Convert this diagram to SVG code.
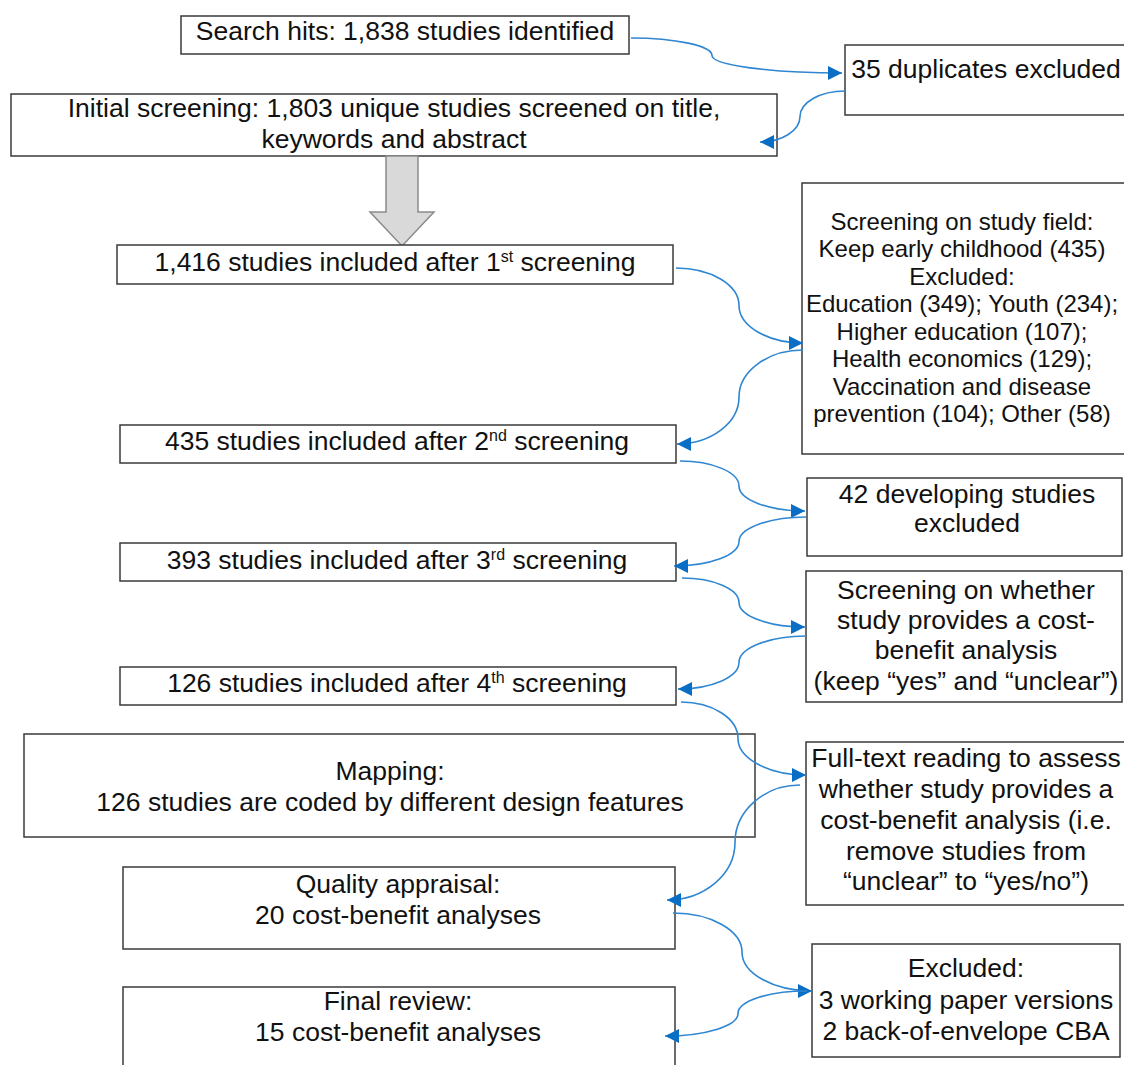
<svg xmlns="http://www.w3.org/2000/svg" width="1124" height="1065" viewBox="0 0 1124 1065">
<style>
.box{fill:#fff;stroke:#3a3a3a;stroke-width:1.5}
.t{font-family:"Liberation Sans",Arial,sans-serif;font-size:26.5px;fill:#111;text-anchor:middle}
.s{font-size:24px}
.c{fill:none;stroke:#2f86d2;stroke-width:1.6;marker-end:url(#ah)}
</style>
<defs>
<marker id="ah" markerUnits="userSpaceOnUse" markerWidth="15" markerHeight="15" refX="14" refY="7" orient="auto">
<path d="M0,0 L14,7 L0,14 z" fill="#0a6fc4"/>
</marker>
</defs>
<rect width="1124" height="1065" fill="#fff"/>

<g id="n-search"><rect class="box" x="181" y="16" width="448" height="38"/><text class="t" x="405" y="40">Search hits: 1,838 studies identified</text></g>
<g id="n-dup"><rect class="box" x="845" y="45" width="290" height="70"/><text class="t" x="986" y="78">35 duplicates excluded</text></g>
<g id="n-initial"><rect class="box" x="11" y="94" width="766" height="62"/><text class="t" x="394" y="117">Initial screening: 1,803 unique studies screened on title,</text><text class="t" x="394" y="148">keywords and abstract</text></g>
<g id="n-bigarrow"><path d="M386,156 L418,156 L418,212 L434,212 L402,246 L370,212 L386,212 Z" fill="#d9d9d9" stroke="#8a8a8a" stroke-width="1.5"/></g>
<g id="n-s1"><rect class="box" x="117" y="245" width="556" height="39"/><text class="t" x="395" y="271">1,416 studies included after 1<tspan dy="-9" font-size="16">st</tspan><tspan dy="9"> screening</tspan></text></g>
<g id="n-field"><rect class="box" x="802" y="183" width="330" height="271"/>
<text class="t s" x="962" y="230">Screening on study field:</text>
<text class="t s" x="962" y="257">Keep early childhood (435)</text>
<text class="t s" x="962" y="284.5">Excluded:</text>
<text class="t s" x="962" y="312">Education (349); Youth (234);</text>
<text class="t s" x="962" y="339.5">Higher education (107);</text>
<text class="t s" x="962" y="367">Health economics (129);</text>
<text class="t s" x="962" y="394.5">Vaccination and disease</text>
<text class="t s" x="962" y="422">prevention (104); Other (58)</text></g>
<g id="n-s2"><rect class="box" x="120" y="425" width="556" height="38"/><text class="t" x="397" y="450">435 studies included after 2<tspan dy="-9" font-size="16">nd</tspan><tspan dy="9"> screening</tspan></text></g>
<g id="n-dev"><rect class="box" x="807" y="478" width="315" height="78"/><text class="t" x="967" y="503">42 developing studies</text><text class="t" x="967" y="532">excluded</text></g>
<g id="n-s3"><rect class="box" x="120" y="543" width="556" height="38"/><text class="t" x="397" y="569">393 studies included after 3<tspan dy="-9" font-size="16">rd</tspan><tspan dy="9"> screening</tspan></text></g>
<g id="n-cba"><rect class="box" x="806" y="571" width="316" height="131"/>
<text class="t" x="966" y="599">Screening on whether</text>
<text class="t" x="966" y="629">study provides a cost-</text>
<text class="t" x="966" y="659">benefit analysis</text>
<text class="t" x="966" y="690">(keep “yes” and “unclear”)</text></g>
<g id="n-s4"><rect class="box" x="120" y="667" width="556" height="38"/><text class="t" x="397" y="692">126 studies included after 4<tspan dy="-9" font-size="16">th</tspan><tspan dy="9"> screening</tspan></text></g>
<g id="n-map"><rect class="box" x="24" y="734" width="731" height="103"/><text class="t" x="390" y="780">Mapping:</text><text class="t" x="390" y="811">126 studies are coded by different design features</text></g>
<g id="n-full"><rect class="box" x="806" y="742" width="324" height="163"/>
<text class="t" x="966" y="767">Full-text reading to assess</text>
<text class="t" x="966" y="798">whether study provides a</text>
<text class="t" x="966" y="829">cost-benefit analysis (i.e.</text>
<text class="t" x="966" y="860">remove studies from</text>
<text class="t" x="966" y="890">“unclear” to “yes/no”)</text></g>
<g id="n-qual"><rect class="box" x="123" y="867" width="552" height="82"/><text class="t" x="398" y="893">Quality appraisal:</text><text class="t" x="398" y="924">20 cost-benefit analyses</text></g>
<g id="n-excl"><rect class="box" x="812" y="944" width="308" height="113"/>
<text class="t" x="966" y="977">Excluded:</text>
<text class="t" x="966" y="1009">3 working paper versions</text>
<text class="t" x="966" y="1040">2 back-of-envelope CBA</text></g>
<g id="n-final"><rect class="box" x="123" y="987" width="552" height="90"/><text class="t" x="398" y="1010">Final review:</text><text class="t" x="398" y="1041">15 cost-benefit analyses</text></g>

<g id="connectors">
<path class="c" d="M631,38 C675.5,38 712,45.9 712,55.5 C712,65.1 770.5,73 842,73"/>
<path class="c" d="M845,91 C820,91 800,102.5 800,116.5 C800,130.5 782,142 760,142"/>
<path class="c" d="M676,268 C710.7,268 739,284.9 739,305.5 C739,326.1 767.8,343 803,343"/>
<path class="c" d="M803,350 C767.8,350 739,371.2 739,397 C739,422.9 711.1,444 677,444"/>
<path class="c" d="M680,461 C712.5,461 739,472.3 739,486 C739,499.8 768.7,511 805,511"/>
<path class="c" d="M806,517 C769.2,517 739,528 739,541.5 C739,555 709.8,566 674,566"/>
<path class="c" d="M682,578 C713.4,578 739,589 739,602.5 C739,616 768.7,627 805,627"/>
<path class="c" d="M806,636 C769.2,636 739,648 739,662.5 C739,677 711.6,689 678,689"/>
<path class="c" d="M681,702 C712.4,702 738,718.4 738,738.5 C738,758.6 768.6,775 806,775"/>
<path class="c" d="M800,785 C764.3,785 735,810.9 735,842.5 C735,874.1 704.4,900 667,900"/>
<path class="c" d="M673,913 C711,913 742,930.6 742,952 C742,973.5 773.5,991 812,991"/>
<path class="c" d="M807,991 C769,991 738,1001.1 738,1013.5 C738,1025.9 705.2,1036 665,1036"/>
</g>
</svg>
